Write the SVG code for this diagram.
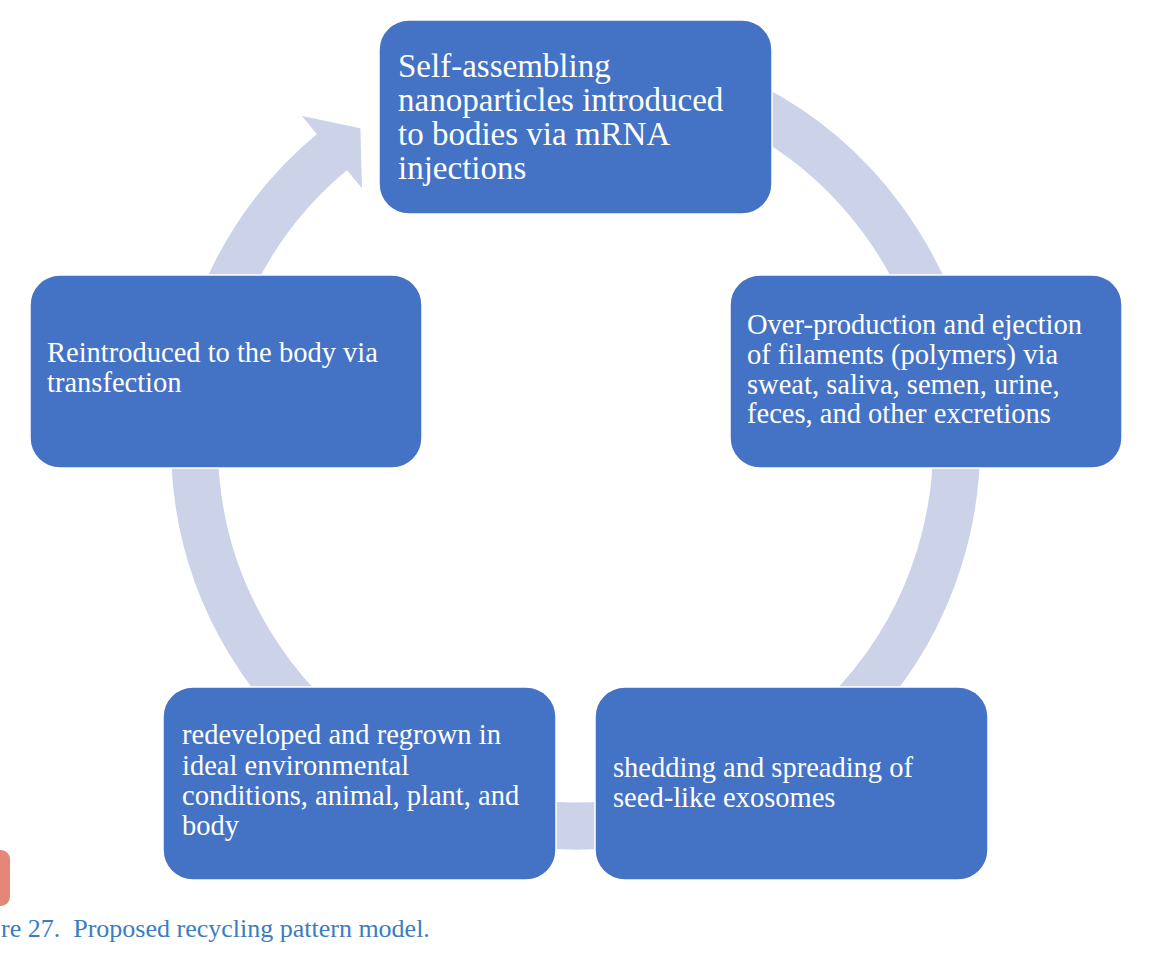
<svg xmlns="http://www.w3.org/2000/svg" width="1170" height="970" viewBox="0 0 1170 970">
<style>
.box{fill:#4472C4;stroke:#ffffff;stroke-width:1.5}
.t{font-family:"Liberation Serif","Times New Roman",serif;fill:#ffffff;font-size:28.5px}
.tb{font-size:33px}
.cap{font-family:"Liberation Serif","Times New Roman",serif;fill:#3A7DC0;font-size:26px;white-space:pre}
.ring{fill:none;stroke:#CCD2E8;stroke-width:47}
</style>
<rect width="1170" height="970" fill="#ffffff"/>
<g id="connectors">
<path class="ring" d="M 575.5 64 A 381 381 0 1 1 335.7 148.9"/>
<polygon points="301.9,115.9 360.4,128.3 362,188.2" fill="#CCD2E8"/>
</g>
<g id="node1">
<rect class="box" x="379" y="20" width="393" height="194" rx="30"/>
<text class="t tb" x="398"><tspan x="398" y="77">Self-assembling</tspan><tspan x="398" y="111">nanoparticles introduced</tspan><tspan x="398" y="145">to bodies via mRNA</tspan><tspan x="398" y="179">injections</tspan></text>
</g>
<g id="node2">
<rect class="box" x="730" y="275" width="392" height="193" rx="30"/>
<text class="t"><tspan x="747" y="334">Over-production and ejection</tspan><tspan x="747" y="364">of filaments (polymers) via</tspan><tspan x="747" y="394">sweat, saliva, semen, urine,</tspan><tspan x="747" y="423">feces, and other excretions</tspan></text>
</g>
<g id="node3">
<rect class="box" x="595" y="687" width="393" height="193" rx="30"/>
<text class="t"><tspan x="613" y="777">shedding and spreading of</tspan><tspan x="613" y="807">seed-like exosomes</tspan></text>
</g>
<g id="node4">
<rect class="box" x="163" y="687" width="393" height="193" rx="30"/>
<text class="t"><tspan x="182" y="744">redeveloped and regrown in</tspan><tspan x="182" y="775">ideal environmental</tspan><tspan x="182" y="805">conditions, animal, plant, and</tspan><tspan x="182" y="835">body</tspan></text>
</g>
<g id="node5">
<rect class="box" x="30" y="275" width="392" height="193" rx="30"/>
<text class="t"><tspan x="47" y="362">Reintroduced to the body via</tspan><tspan x="47" y="392">transfection</tspan></text>
</g>
<rect x="-12" y="850" width="22" height="56" rx="9" fill="#E4877A"/>
<text class="cap" x="1" y="937">re 27.  Proposed recycling pattern model.</text>
</svg>
